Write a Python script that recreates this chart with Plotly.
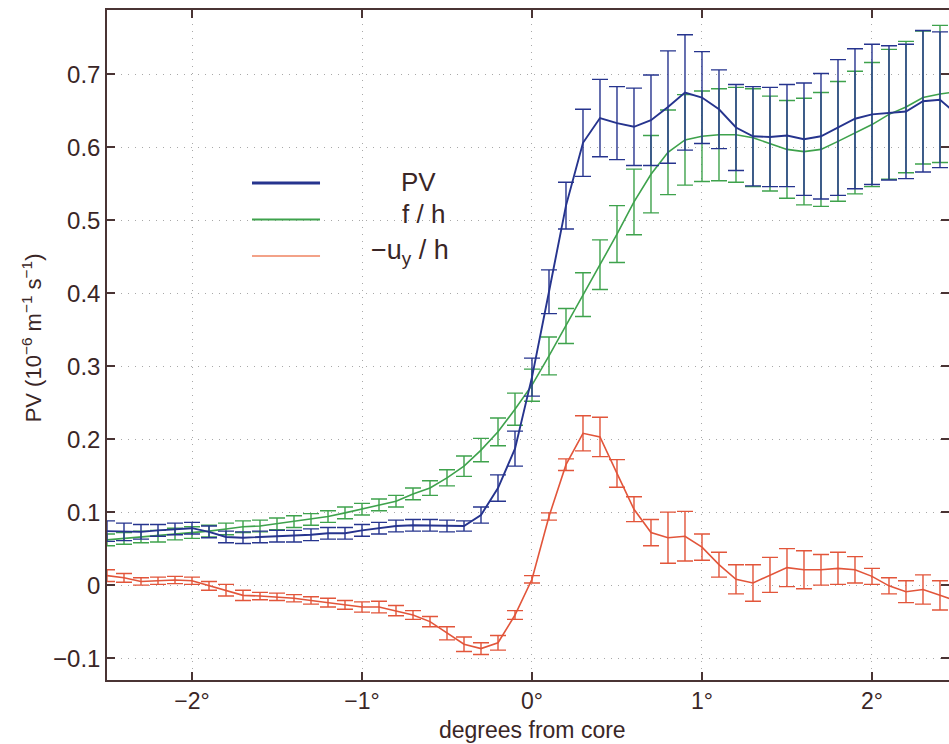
import plotly.graph_objects as go

# ---- data (degrees from core) ----
x_deg = [-2.5, -2.4, -2.3, -2.2, -2.1, -2.0, -1.9, -1.8, -1.7, -1.6,
         -1.5, -1.4, -1.3, -1.2, -1.1, -1.0, -0.9, -0.8, -0.7, -0.6,
         -0.5, -0.4, -0.3, -0.2, -0.1, 0.0, 0.1, 0.2, 0.3, 0.4,
         0.5, 0.6, 0.7, 0.8, 0.9, 1.0, 1.1, 1.2, 1.3, 1.4,
         1.5, 1.6, 1.7, 1.8, 1.9, 2.0, 2.1, 2.2, 2.3, 2.4, 2.5]

pv = [0.074, 0.073, 0.073, 0.075, 0.077, 0.078,
      0.073, 0.066, 0.065, 0.066, 0.067, 0.067, 0.069, 0.071, 0.071, 0.075,
      0.078, 0.081, 0.082, 0.082, 0.081, 0.081, 0.096, 0.133, 0.187, 0.285,
      0.402, 0.520, 0.606, 0.640, 0.633, 0.628, 0.637, 0.655, 0.675, 0.668,
      0.652, 0.627, 0.615, 0.614, 0.616, 0.611, 0.615, 0.627, 0.639, 0.645,
      0.647, 0.649, 0.663, 0.665, 0.645]
pv_err = [0.014, 0.012, 0.010, 0.008, 0.008, 0.008,
          0.008, 0.008, 0.008, 0.008, 0.008, 0.008, 0.008, 0.008, 0.008, 0.008,
          0.008, 0.008, 0.008, 0.008, 0.008, 0.007, 0.011, 0.018, 0.024, 0.026,
          0.030, 0.032, 0.046, 0.053, 0.050, 0.053, 0.062, 0.077, 0.079, 0.063,
          0.054, 0.059, 0.068, 0.068, 0.070, 0.077, 0.086, 0.093, 0.096, 0.096,
          0.092, 0.092, 0.097, 0.093, 0.093]

fh = [0.062, 0.064, 0.066, 0.067, 0.070, 0.072,
      0.074, 0.077, 0.080, 0.081, 0.084, 0.087, 0.090, 0.094, 0.099, 0.104,
      0.110, 0.115, 0.125, 0.133, 0.147, 0.163, 0.185, 0.210, 0.241, 0.274,
      0.314, 0.355, 0.398, 0.439, 0.481, 0.525, 0.563, 0.593, 0.610, 0.615,
      0.617, 0.617, 0.613, 0.605, 0.597, 0.594, 0.597, 0.608, 0.620, 0.631,
      0.645, 0.655, 0.668, 0.673, 0.676]
fh_err = [0.008, 0.008, 0.008, 0.008, 0.008, 0.008,
          0.008, 0.008, 0.008, 0.008, 0.008, 0.008, 0.008, 0.008, 0.008, 0.008,
          0.008, 0.008, 0.008, 0.010, 0.011, 0.014, 0.016, 0.019, 0.022, 0.022,
          0.026, 0.024, 0.030, 0.034, 0.039, 0.045, 0.053, 0.058, 0.062, 0.062,
          0.063, 0.065, 0.067, 0.065, 0.067, 0.073, 0.078, 0.082, 0.084, 0.085,
          0.089, 0.090, 0.091, 0.094, 0.094]

uyh = [0.013, 0.010, 0.005, 0.006, 0.007, 0.006,
       -0.001, -0.007, -0.014, -0.015, -0.016, -0.018, -0.021, -0.024, -0.027, -0.030,
       -0.030, -0.035, -0.041, -0.050, -0.066, -0.081, -0.087, -0.079, -0.041, 0.008,
       0.094, 0.165, 0.208, 0.203, 0.153, 0.104, 0.072, 0.065, 0.067, 0.052,
       0.028, 0.008, 0.003, 0.014, 0.024, 0.021, 0.021, 0.023, 0.021, 0.012,
       -0.001, -0.009, -0.006, -0.014, -0.022]
uyh_err = [0.008, 0.006, 0.005, 0.005, 0.005, 0.005,
           0.006, 0.008, 0.007, 0.005, 0.005, 0.005, 0.005, 0.006, 0.006, 0.007,
           0.008, 0.007, 0.006, 0.007, 0.009, 0.010, 0.008, 0.010, 0.006, 0.005,
           0.005, 0.008, 0.024, 0.027, 0.019, 0.017, 0.018, 0.035, 0.034, 0.018,
           0.017, 0.020, 0.025, 0.024, 0.026, 0.026, 0.021, 0.022, 0.018, 0.011,
           0.011, 0.015, 0.020, 0.020, 0.020]

x_tickvals = [-2, -1, 0, 1, 2]
x_ticktext = ["\u22122\u00b0", "\u22121\u00b0", "0\u00b0", "1\u00b0", "2\u00b0"]
y_tickvals = [-0.1, 0, 0.1, 0.2, 0.3, 0.4, 0.5, 0.6, 0.7]
y_ticktext = ["\u22120.1", "0", "0.1", "0.2", "0.3", "0.4", "0.5", "0.6", "0.7"]

# ---- styles ----
BLUE = "#26348e"
GREEN = "#3ea24c"
RED = "#e2553a"
RED_LEG = "#f3a288"
TXT = "#3a2626"
AX = "#4a3434"
GRID = "#a8a8a8"
FONT = "Liberation Sans, Arial, sans-serif"

fig = go.Figure()

def add_series(y, err, color, lw):
    fig.add_trace(go.Scatter(
        x=x_deg, y=y, mode="lines",
        line=dict(color=color, width=lw),
        error_y=dict(type="data", array=err, visible=True,
                     color=color, thickness=1.4, width=8),
        showlegend=False, cliponaxis=True, hoverinfo="skip"))

add_series(uyh, uyh_err, RED, 1.6)
add_series(fh, fh_err, GREEN, 1.6)
add_series(pv, pv_err, BLUE, 1.9)

# manual legend (matches reference placement)
leg = [(0.551, BLUE, 3.0), (0.501, GREEN, 2.0), (0.451, RED_LEG, 2.0)]
for yy, c, w in leg:
    fig.add_shape(type="line", xref="x", yref="y",
                  x0=-1.647, x1=-1.247, y0=yy, y1=yy,
                  line=dict(color=c, width=w))

fig.add_annotation(x=-0.67, y=0.553, xref="x", yref="y", text="PV",
                   showarrow=False, font=dict(size=26, color=TXT, family=FONT))
fig.add_annotation(x=-0.64, y=0.509, xref="x", yref="y", text="f / h",
                   showarrow=False, font=dict(size=26, color=TXT, family=FONT))
fig.add_annotation(x=-0.72, y=0.456, xref="x", yref="y",
                   text="\u2212u<sub>y</sub> / h",
                   showarrow=False, font=dict(size=27, color=TXT, family=FONT))

# y axis title
fig.add_annotation(x=-0.089, y=0.51, xref="paper", yref="paper",
                   text="PV (10<sup>\u22126</sup> m<sup>\u22121</sup> s<sup>\u22121</sup>)",
                   textangle=-90, showarrow=False, xanchor="center", yanchor="middle",
                   font=dict(size=22, color=TXT, family=FONT))
# x axis title
fig.add_annotation(x=0.505, y=-0.074, xref="paper", yref="paper",
                   text="degrees from core", showarrow=False,
                   xanchor="center", yanchor="middle",
                   font=dict(size=23, color=TXT, family=FONT))

axis_common = dict(ticks="inside", ticklen=8, tickwidth=1.5, tickcolor=AX,
                   showline=True, linecolor=AX, linewidth=1.5, mirror="ticks",
                   showgrid=True, gridcolor=GRID, griddash="1px,6px", gridwidth=1.3,
                   zeroline=False, automargin=False)

fig.update_layout(
    width=949, height=744,
    margin=dict(l=107, r=0, t=10, b=64),
    paper_bgcolor="white", plot_bgcolor="white",
    font=dict(family=FONT, size=22, color=TXT),
    xaxis=dict(range=[-2.5, 2.453], tickvals=x_tickvals, ticktext=x_ticktext,
               tickfont=dict(size=23, color=TXT, family=FONT), **axis_common),
    yaxis=dict(range=[-0.130, 0.788], tickvals=y_tickvals, ticktext=y_ticktext,
               tickfont=dict(size=24, color=TXT, family=FONT), **axis_common),
)

fig.write_html(
    "out.html",
    config={"displayModeBar": False},
    post_script="document.body.style.margin='0';document.body.style.overflow='hidden';",
)
